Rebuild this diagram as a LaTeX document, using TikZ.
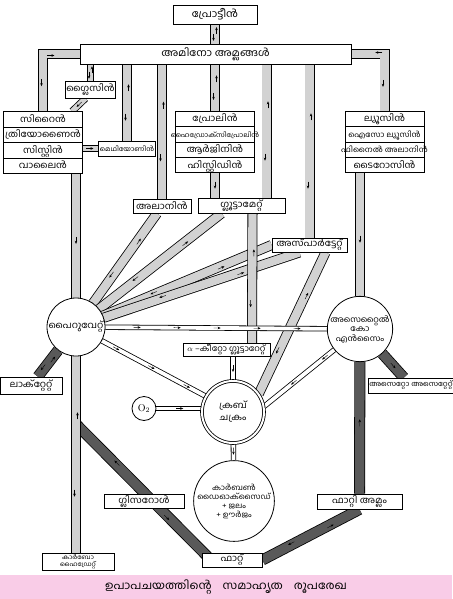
\documentclass[tikz,border=0pt]{standalone}
\usepackage{fontspec}
\newfontfamily\mlfont[Script=Malayalam, FakeStretch=1.1]{Hind Kochi}
\usetikzlibrary{
    shapes.multipart,
    positioning,
    arrows.meta,
    decorations.markings,
    backgrounds
}
\definecolor{capink}{RGB}{249,204,231}
\newcommand{\rowstrut}{\rule[-4.4pt]{0pt}{14.6pt}}
\newcommand{\mlrow}[1]{\makebox[76pt]{\rowstrut#1}}

\begin{document}
\begin{tikzpicture}[
      x=1pt, y=-1pt,
      % Define styles for the boxes and pools
      base/.style={
          rectangle,
          draw,
          line width=0.8pt,
          fill=white,
          inner sep=1pt,
          font=\mlfont\fontsize{9}{10}\selectfont
        },
      multi/.style={
          base,
          rectangle split,
          rectangle split parts=4,
          inner ysep=0pt,
          inner xsep=1.5pt
        },
      pool/.style={
          circle,
          draw,
          line width=0.8pt,
          fill=white,
          inner sep=0pt,
          align=center,
          font=\mlfont\fontsize{8}{9.5}\selectfont
        },
      % Define styles for the channels
      chan/.style={
          preaction={draw=black, line width=10pt},
          preaction={draw=gray!35, line width=8.4pt}
        },
      narrowchan/.style={
          preaction={draw=black, line width=7pt},
          preaction={draw=gray!35, line width=5.4pt}
        },
      thinchan/.style={
          preaction={draw=black, line width=5.4pt},
          preaction={draw=white, line width=3.8pt}
        },
      darkchan/.style={
          preaction={draw=black, line width=11pt},
          preaction={draw=black!65, line width=9.4pt}
        },
      % Arrow marks inside the channels
      tip/.style={
          -{Stealth[length=3pt, width=2.5pt]}, % Arrow tip style
          line width=0.4pt,
          draw=black
        },
      fwd/.style={
          postaction={decorate, decoration={markings,
              mark=at position 0.55 with {\draw[tip] (-5pt,0) -- (2pt,0);}}}
        },
      fwdmany/.style={
          postaction={decorate, decoration={markings,
              mark=between positions 0.15 and 0.9 step 40pt with {\draw[tip] (-5pt,0) -- (2pt,0);}}}
        },
      both/.style={
          postaction={decorate, decoration={markings,
              mark=at position 0.3 with {\draw[tip] (4pt,1.5pt) -- (-3pt,1.5pt);},
              mark=at position 0.7 with {\draw[tip] (-4pt,-1.5pt) -- (3pt,-1.5pt);}}}
        }
    ]
    \useasboundingbox (0,0) rectangle (452,599);

    % Caption band
    \fill[capink] (0,575) rectangle (452,599);
    \node[font=\mlfont\fontsize{11}{13}\selectfont] (caption) at (226,587)
      {ഉപാപചയത്തിന്റെ\quad സമാഹൃത\quad രൂപരേഖ};

    % Place the amino acid nodes
    \node[base, minimum width=84pt, minimum height=19pt,
      font=\mlfont\fontsize{10}{11}\selectfont] (protein) at (215,14.5) {പ്രോട്ടീൻ};
    \node[base, minimum width=271pt, minimum height=20pt,
      font=\mlfont\fontsize{10}{11}\selectfont] (amino) at (215.5,54) {അമിനോ അമ്ലങ്ങൾ};
    \node[base, minimum width=45pt, minimum height=17pt] (glycine) at (90.5,89.5) {ഗ്ലൈസിൻ};
    \node[multi] (serine) at (43,142.5) {
      \mlrow{സിറൈൻ}
      \nodepart{two}\mlrow{ത്രിയോണൈൻ}
      \nodepart{three}\mlrow{സിസ്റ്റിൻ}
      \nodepart{four}\mlrow{വാലൈൻ}
    };
    \node[base, minimum width=52pt, minimum height=15pt,
      font=\mlfont\fontsize{6.5}{7}\selectfont] (methionine) at (127,148.5) {മെഥിയോണിൻ};
    \node[multi] (proline) at (215,142) {
      \mlrow{പ്രോലിൻ}
      \nodepart{two}\mlrow{\fontsize{6.5}{7}\selectfont ഹൈഡ്രോക്സിപ്രോലിൻ}
      \nodepart{three}\mlrow{ആർജിനിൻ}
      \nodepart{four}\mlrow{ഹിസ്റ്റിഡിൻ}
    };
    \node[multi] (leucine) at (384.5,142) {
      \mlrow{ല്യൂസിൻ}
      \nodepart{two}\mlrow{\fontsize{7.5}{8}\selectfont ഐസോ ല്യൂസിൻ}
      \nodepart{three}\mlrow{\fontsize{7.5}{8}\selectfont ഫിനൈൽ അലാനിൻ}
      \nodepart{four}\mlrow{ടൈറോസിൻ}
    };
    \node[base, minimum width=58pt, minimum height=14pt] (alanine) at (162,206) {അലാനിൻ};
    \node[base, minimum width=87pt, minimum height=15pt] (glutamate) at (241.5,205.5) {ഗ്ലൂട്ടാമേറ്റ്};
    \node[base, minimum width=75pt, minimum height=14pt] (aspartate) at (309.5,245) {അസ്പാർട്ടേറ്റ്};

    % Place the pools of the middle
    \node[pool, minimum size=58pt, font=\mlfont\fontsize{9}{10}\selectfont] (pyruvate) at (76,327) {പൈറുവേറ്റ്};
    \node[pool, minimum size=56pt] (acetyl) at (360,329) {അസെറ്റൈൽ\\കോ\\എൻസൈം};
    \node[base, minimum width=87pt, minimum height=13pt,
      font=\mlfont\fontsize{8}{9}\selectfont] (aketo) at (226.5,350) {$\alpha$ –കീറ്റോ ഗ്ലൂട്ടാറേറ്റ്};
    \node[base, minimum width=62pt, minimum height=17pt] (lactate) at (31,385.5) {ലാക്റ്റേറ്റ്};
    \node[pool, minimum size=62pt, double, double distance=2pt,
      font=\mlfont\fontsize{9}{12}\selectfont] (krebs) at (233,412) {ക്രബ്\\ചക്രം};
    \node[pool, minimum size=24pt, font=\fontsize{10}{11}\selectfont] (otwo) at (144,408.5) {O$_2$};
    \node[base, minimum width=76pt, minimum height=15pt,
      font=\mlfont\fontsize{7}{8}\selectfont] (acetoacetate) at (411,385.5) {അസെറ്റോ അസെറ്റേറ്റ്};
    \node[pool, minimum size=70pt, font=\mlfont\fontsize{7.5}{9}\selectfont] (cotwo) at (234,501)
      {കാർബൺ\\ഡൈഓക്സൈഡ്\\+ ജലം\\+ ഊർജം};

    % Place the fat nodes
    \node[base, minimum width=80pt, minimum height=14pt] (glycerol) at (144,501) {ഗ്ലിസറോൾ};
    \node[base, minimum width=85pt, minimum height=15pt] (fatty) at (359.5,501.5) {ഫാറ്റി അമ്ലം};
    \node[base, minimum width=60pt, minimum height=14pt] (fat) at (232,560) {ഫാറ്റ്};
    \node[base, minimum width=72pt, minimum height=17pt, align=center,
      font=\mlfont\fontsize{6}{6.5}\selectfont] (carbo) at (78,561.5) {കാർബോ\\ഹൈഡ്രേറ്റ്};

    % Draw the channels behind the nodes
    \begin{scope}[on background layer]
      \coordinate (glutin) at ([xshift=25pt]glutamate.north);
      \coordinate (glyctop) at (76,424);

      \path[chan, both] (protein) -- (protein |- amino.north);
      \path[chan, both] (amino.west) -| (serine.north);
      \path[chan, both] (amino.east) -| (leucine.north);
      \path[narrowchan, both] (glycine.north |- amino.south) -- (glycine.north);
      \path[narrowchan, fwd] ([xshift=-5pt]glycine.south) -- ([xshift=29pt]serine.north);
      \path[chan, both] (methionine.north |- amino.south) -- (methionine.north);
      \path[narrowchan, fwd] (serine.east |- methionine) -- (methionine.west);
      \path[chan, both] (alanine.north |- amino.south) -- (alanine.north);
      \path[chan, both] (proline.north |- amino.south) -- (proline.north);
      \path[chan, fwd] (proline.south) -- (proline.south |- glutamate.north);
      \path[chan, both] (glutin |- amino.south) -- (glutin);
      \path[chan, both] (aspartate.north |- amino.south) -- (aspartate.north);

      % Amino acids into pyruvate, acetyl co-A and the cycle
      \path[chan, fwd] (serine.south -| pyruvate.north) -- (pyruvate.north);
      \path[chan, fwd] (acetyl.north |- leucine.south) -- (acetyl.north);
      \path[chan, both] ([xshift=-5pt]alanine.south) -- (pyruvate);
      \path[chan, both] ([xshift=-20pt]glutamate.south) -- (pyruvate);
      \path[chan, both] (aspartate.west) -- (pyruvate);
      \path[chan, both] ([xshift=-10pt]aspartate.south) -- (pyruvate);
      \path[chan, both] ([xshift=11pt]glutamate.south) -- ([xshift=25.5pt]aketo.north);
      \path[chan, both] ([xshift=16pt]aspartate.south) -- (krebs.35);

      % Fat pathway
      \path[darkchan, both] (glyctop) -- ([xshift=6pt, yshift=-4pt]fat.north west);
      \path[darkchan, both] (pyruvate) -- (lactate);
      \path[chan, both] (pyruvate.south) -- (pyruvate.south |- carbo.north);
      \path[darkchan, both] (fat.east) -- (fatty.south);
      \path[darkchan, fwd] (fatty) -- (acetyl);
      \path[darkchan, fwd] (acetyl) -- (acetoacetate);

      % Oxidation
      \path[thinchan, fwdmany] (pyruvate) -- (acetyl);
      \path[thinchan, fwdmany] (pyruvate) -- (krebs.150);
      \path[thinchan, fwdmany] (acetyl) -- (krebs.10);
      \path[thinchan, fwd] (otwo) -- (otwo -| krebs.west);
      \path[thinchan, fwd] (krebs.north |- aketo.south) -- (krebs.north);
      \path[thinchan, fwd] (krebs) -- (cotwo);
    \end{scope}

  \end{tikzpicture}
\end{document}
